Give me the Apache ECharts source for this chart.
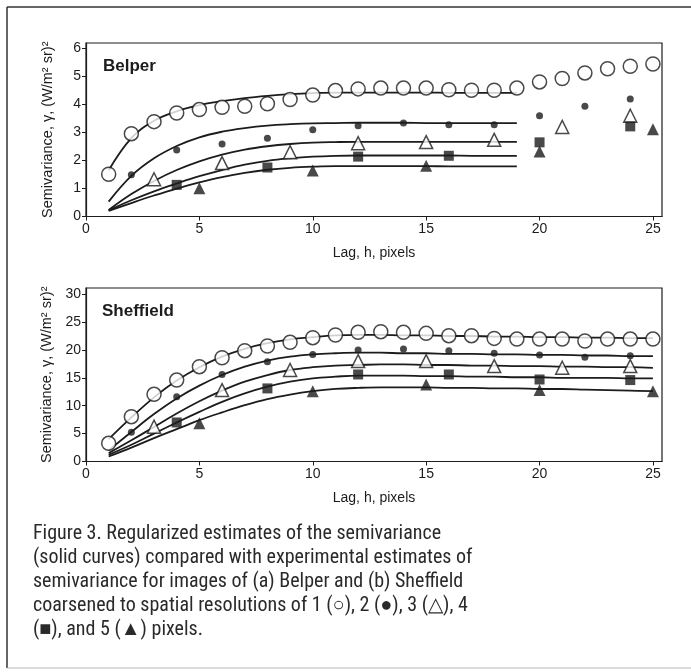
<!DOCTYPE html>
<html>
<head>
<meta charset="utf-8">
<script src="https://cdn.jsdelivr.net/npm/echarts@6/dist/echarts.min.js"></script>
<style>
  html, body { margin: 0; padding: 0; background: #fff; }
  #chart { width: 691px; height: 672px; }
</style>
</head>
<body>
<div id="chart"></div>
<script>
// lag values (pixels)
const lagsAll = [1, 2, 3, 4, 5, 6, 7, 8, 9, 10, 11, 12, 13, 14, 15, 16, 17, 18, 19, 20, 21, 22, 23, 24, 25];
const lags2 = [2, 4, 6, 8, 10, 12, 14, 16, 18, 20, 22, 24];
const lags3 = [3, 6, 9, 12, 15, 18, 21, 24];
const lags4 = [4, 8, 12, 16, 20, 24];
const lags5 = [5, 10, 15, 20, 25];
const belperCurveLags = [1, 2, 3, 4, 5, 6, 7, 8, 9, 10, 11, 12, 13, 14, 15, 16, 17, 18, 19];

// Belper experimental estimates
const belperRes1 = [1.51, 2.96, 3.39, 3.70, 3.82, 3.90, 3.94, 4.03, 4.18, 4.34, 4.50, 4.56, 4.59, 4.59, 4.59, 4.53, 4.51, 4.51, 4.59, 4.81, 4.93, 5.13, 5.28, 5.37, 5.45];
const belperRes2 = [1.49, 2.38, 2.59, 2.80, 3.10, 3.24, 3.34, 3.28, 3.28, 3.60, 3.94, 4.20];
const belperRes3 = [1.33, 1.91, 2.30, 2.62, 2.66, 2.74, 3.20, 3.60];
const belperRes4 = [1.13, 1.75, 2.14, 2.17, 2.65, 3.22];
const belperRes5 = [1.01, 1.64, 1.81, 2.32, 3.12];

// Belper regularized curves
const belperCurve1 = [1.65, 2.80, 3.42, 3.76, 3.98, 4.12, 4.23, 4.31, 4.37, 4.41, 4.43, 4.43, 4.43, 4.43, 4.43, 4.42, 4.42, 4.42, 4.42];
const belperCurve2 = [0.53, 1.45, 2.08, 2.52, 2.83, 3.03, 3.16, 3.25, 3.30, 3.33, 3.34, 3.35, 3.35, 3.35, 3.34, 3.34, 3.34, 3.34, 3.34];
const belperCurve3 = [0.23, 0.80, 1.27, 1.66, 1.97, 2.21, 2.39, 2.51, 2.59, 2.64, 2.66, 2.67, 2.67, 2.67, 2.67, 2.67, 2.67, 2.67, 2.67];
const belperCurve4 = [0.22, 0.58, 0.90, 1.18, 1.44, 1.66, 1.85, 1.99, 2.08, 2.14, 2.17, 2.18, 2.18, 2.18, 2.18, 2.18, 2.17, 2.17, 2.17];
const belperCurve5 = [0.20, 0.48, 0.75, 1.00, 1.22, 1.41, 1.56, 1.67, 1.74, 1.78, 1.80, 1.80, 1.80, 1.80, 1.80, 1.79, 1.79, 1.79, 1.79];

// Sheffield experimental estimates
const sheffRes1 = [3.26, 8.03, 12.04, 14.6, 17.0, 18.6, 19.86, 20.7, 21.36, 22.2, 22.67, 23.15, 23.27, 23.15, 22.97, 22.55, 22.55, 22.07, 21.95, 21.95, 21.95, 21.6, 21.95, 21.95, 21.95];
const sheffRes2 = [5.23, 11.6, 15.6, 17.9, 19.2, 19.98, 20.16, 19.86, 19.4, 19.1, 18.67, 18.96];
const sheffRes3 = [6.24, 12.8, 16.4, 18.0, 18.0, 17.1, 16.8, 17.1];
const sheffRes4 = [7.0, 13.1, 15.6, 15.6, 14.7, 14.6];
const sheffRes5 = [6.84, 12.6, 13.8, 12.8, 12.6];

// Sheffield regularized curves
const sheffCurve1 = [4.0, 7.9, 11.5, 14.5, 16.9, 18.8, 20.2, 21.2, 21.9, 22.3, 22.6, 22.7, 22.7, 22.6, 22.6, 22.5, 22.5, 22.4, 22.4, 22.3, 22.3, 22.2, 22.2, 22.1, 22.1];
const sheffCurve2 = [2.0, 5.3, 8.5, 11.3, 13.6, 15.5, 17.0, 18.1, 18.8, 19.2, 19.4, 19.5, 19.5, 19.4, 19.4, 19.3, 19.3, 19.2, 19.2, 19.1, 19.1, 19.0, 19.0, 18.9, 18.9];
const sheffCurve3 = [1.5, 3.8, 6.2, 8.6, 10.8, 12.7, 14.3, 15.5, 16.4, 16.9, 17.2, 17.3, 17.4, 17.4, 17.3, 17.3, 17.2, 17.2, 17.1, 17.1, 17.0, 17.0, 16.9, 16.9, 16.8];
const sheffCurve4 = [1.2, 3.0, 5.0, 7.0, 8.9, 10.7, 12.2, 13.4, 14.3, 14.9, 15.2, 15.4, 15.4, 15.4, 15.3, 15.3, 15.2, 15.2, 15.1, 15.1, 15.0, 15.0, 15.0, 14.9, 14.9];
const sheffCurve5 = [0.9, 2.5, 4.2, 5.8, 7.4, 8.8, 10.1, 11.2, 12.0, 12.6, 13.0, 13.2, 13.3, 13.3, 13.3, 13.2, 13.2, 13.1, 13.1, 13.0, 13.0, 12.9, 12.8, 12.7, 12.6];

const xTicks = [0, 5, 10, 15, 20, 25];
const belperYTicks = [0, 1, 2, 3, 4, 5, 6];
const sheffYTicks = [0, 5, 10, 15, 20, 25, 30];

const yName = 'Semivariance, \u03b3, (W/m\u00b2 sr)\u00b2';
const xName = 'Lag, h, pixels';
const caption = 'Figure 3. Regularized estimates of the semivariance\n' +
    '(solid curves) compared with experimental estimates of\n' +
    'semivariance for images of (a) Belper and (b) Sheffield\n' +
    'coarsened to spatial resolutions of 1 (\u25cb), 2 (\u25cf), 3 (\u25b3), 4\n' +
    '(\u25a0), and 5 (\u25b2) pixels.';

const ink = '#1c1c1c';
const font = 'Arial, "Liberation Sans", Helvetica, sans-serif';

function pairs(xs, ys) {
    return xs.map((x, i) => [x, ys[i]]);
}

const markers = [
    { symbol: 'circle', symbolSize: 14, itemStyle: { color: '#fff', borderColor: ink, borderWidth: 1.5 } },
    { symbol: 'circle', symbolSize: 7, itemStyle: { color: ink } },
    { symbol: 'triangle', symbolSize: 13, itemStyle: { color: '#fff', borderColor: ink, borderWidth: 1.5 } },
    { symbol: 'rect', symbolSize: 10, itemStyle: { color: ink } },
    { symbol: 'triangle', symbolSize: 12, itemStyle: { color: ink } }
];

function curveSeries(idx, xs, ys) {
    return {
        type: 'line', xAxisIndex: idx, yAxisIndex: idx,
        data: pairs(xs, ys), smooth: 0.4,
        symbol: 'none', silent: true, z: 2,
        lineStyle: { color: ink, width: 1.8 }
    };
}

function pointSeries(idx, m, xs, ys) {
    return Object.assign({
        type: 'scatter', xAxisIndex: idx, yAxisIndex: idx,
        data: pairs(xs, ys), z: 3
    }, markers[m]);
}

function xAxis(idx) {
    return {
        type: 'value', gridIndex: idx, min: 0, max: 25.4, interval: 5,
        name: xName, nameLocation: 'middle', nameGap: 30,
        nameTextStyle: { color: ink, fontSize: 14, fontFamily: font },
        axisLine: { lineStyle: { color: ink, width: 1.2 } },
        axisTick: { length: 4, lineStyle: { color: ink }, customValues: xTicks },
        axisLabel: { color: ink, fontSize: 14, fontFamily: font, margin: 6, customValues: xTicks },
        splitLine: { show: false }
    };
}

function yAxis(idx, max, interval, ticks) {
    return {
        type: 'value', gridIndex: idx, min: 0, max: max, interval: interval,
        name: yName, nameLocation: 'middle', nameGap: 31,
        nameTextStyle: { color: ink, fontSize: 14.5, fontFamily: font },
        axisLine: { lineStyle: { color: ink, width: 1.2 } },
        axisTick: { length: 4, lineStyle: { color: ink }, customValues: ticks },
        axisLabel: { color: ink, fontSize: 14, fontFamily: font, margin: 5, customValues: ticks },
        splitLine: { show: false }
    };
}

const chart = echarts.init(document.getElementById('chart'), null, { renderer: 'canvas' });

chart.setOption({
    backgroundColor: '#fff',
    animation: false,
    title: [
        { text: 'Belper', left: 98, top: 53, textStyle: { fontSize: 17, fontWeight: 'bold', color: ink, fontFamily: font } },
        { text: 'Sheffield', left: 97, top: 298, textStyle: { fontSize: 17, fontWeight: 'bold', color: ink, fontFamily: font } }
    ],
    grid: [
        { left: 86, top: 43, width: 576, height: 173.5, show: true, borderColor: ink, borderWidth: 1.2, backgroundColor: 'transparent' },
        { left: 86, top: 288, width: 576, height: 173.5, show: true, borderColor: ink, borderWidth: 1.2, backgroundColor: 'transparent' }
    ],
    xAxis: [xAxis(0), xAxis(1)],
    yAxis: [yAxis(0, 6.2, 1, belperYTicks), yAxis(1, 31.1, 5, sheffYTicks)],
    series: [
        curveSeries(0, belperCurveLags, belperCurve1),
        curveSeries(0, belperCurveLags, belperCurve2),
        curveSeries(0, belperCurveLags, belperCurve3),
        curveSeries(0, belperCurveLags, belperCurve4),
        curveSeries(0, belperCurveLags, belperCurve5),
        pointSeries(0, 0, lagsAll, belperRes1),
        pointSeries(0, 1, lags2, belperRes2),
        pointSeries(0, 2, lags3, belperRes3),
        pointSeries(0, 3, lags4, belperRes4),
        pointSeries(0, 4, lags5, belperRes5),
        curveSeries(1, lagsAll, sheffCurve1),
        curveSeries(1, lagsAll, sheffCurve2),
        curveSeries(1, lagsAll, sheffCurve3),
        curveSeries(1, lagsAll, sheffCurve4),
        curveSeries(1, lagsAll, sheffCurve5),
        pointSeries(1, 0, lagsAll, sheffRes1),
        pointSeries(1, 1, lags2, sheffRes2),
        pointSeries(1, 2, lags3, sheffRes3),
        pointSeries(1, 3, lags4, sheffRes4),
        pointSeries(1, 4, lags5, sheffRes5)
    ],
    graphic: [
        { type: 'line', shape: { x1: 7, y1: 7, x2: 691, y2: 7 }, style: { stroke: '#333', lineWidth: 1.5 } },
        { type: 'line', shape: { x1: 7, y1: 7, x2: 7, y2: 668 }, style: { stroke: '#333', lineWidth: 1.5 } },
        { type: 'line', shape: { x1: 7, y1: 668, x2: 691, y2: 668 }, style: { stroke: '#bbb', lineWidth: 1 } },
        {
            type: 'text', left: 33, top: 522,
            style: {
                text: caption, fill: '#2a2a2a', fontSize: 20, lineHeight: 24,
                fontFamily: '"Liberation Sans Narrow", "Roboto Condensed", "Liberation Sans", sans-serif'
            }
        }
    ]
});
</script>
</body>
</html>
